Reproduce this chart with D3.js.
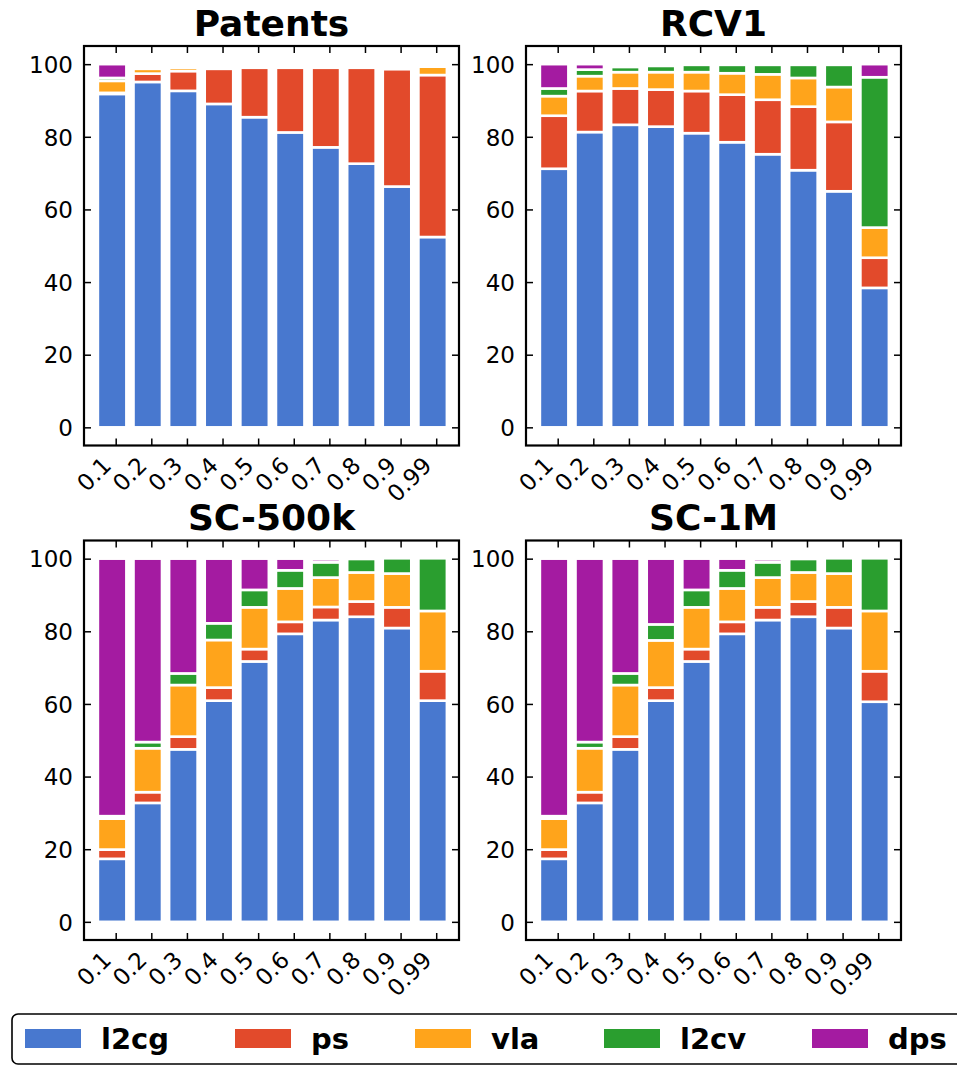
<!DOCTYPE html>
<html>
<head>
<meta charset="utf-8">
<script src="https://cdn.jsdelivr.net/npm/d3@7"></script>
<style>
  body { margin: 0; background: #fff; }
  svg { display: block; }
  text { font-family: "DejaVu Sans", sans-serif; fill: #000; }
</style>
</head>
<body>
<svg id="chart" width="957" height="1066"></svg>
<script>
// Sampling fractions on the x axis and the solver methods stacked in each bar
const fractions = ["0.1", "0.2", "0.3", "0.4", "0.5", "0.6", "0.7", "0.8", "0.9", "0.99"];
const methods = ["l2cg", "ps", "vla", "l2cv", "dps"];
const methodColors = ["#4878CF", "#E24A2B", "#FFA41B", "#2A9E2F", "#A41BA1"];
const yTickValues = [0, 20, 40, 60, 80, 100];

// Share of runs (%) won by each method, per dataset
const patentsL2cg = [91.8, 95.1, 92.65, 89.05, 85.4, 81.2, 77.1, 72.6, 66.3, 52.4];
const patentsPs   = [0.3, 2.3, 5.45, 9.65, 13.6, 17.8, 21.9, 26.4, 32.3, 44.6];
const patentsVla  = [3.3, 1.3, 0.9, 0, 0, 0, 0, 0, 0, 2.3];
const patentsL2cv = [0.8, 0, 0, 0, 0, 0, 0, 0, 0, 0];
const patentsDps  = [3.8, 0, 0, 0, 0, 0, 0, 0, 0, 0];

const rcv1L2cg = [71.2, 81.3, 83.3, 82.8, 81.0, 78.5, 75.2, 70.8, 65.0, 38.4];
const rcv1Ps   = [14.6, 11.3, 10.0, 10.2, 11.6, 13.1, 15.0, 17.5, 19.1, 8.3];
const rcv1Vla  = [5.4, 4.1, 4.5, 4.8, 5.2, 5.9, 7.0, 7.9, 9.6, 8.3];
const rcv1L2cv = [2.1, 1.8, 1.4, 1.7, 2.0, 2.3, 2.6, 3.6, 6.1, 41.4];
const rcv1Dps  = [6.7, 1.5, 0, 0, 0, 0, 0, 0, 0, 3.6];

const sc500kL2cg = [17.35, 32.75, 47.5, 60.9, 71.7, 79.3, 83.1, 84.0, 80.9, 60.9];
const sc500kPs   = [2.55, 2.95, 3.5, 3.6, 3.4, 3.3, 3.6, 4.2, 5.7, 8.1];
const sc500kVla  = [8.5, 12.1, 14.2, 13.1, 11.5, 9.2, 8.1, 8.0, 9.3, 16.6];
const sc500kL2cv = [0.7, 1.7, 3.2, 4.6, 4.8, 5.0, 4.2, 3.7, 4.2, 14.5];
const sc500kDps  = [70.9, 50.5, 31.6, 17.8, 8.6, 3.2, 0.8, 0, 0, 0];

const sc1mL2cg = [17.35, 32.75, 47.5, 60.9, 71.7, 79.3, 83.1, 84.0, 80.9, 60.6];
const sc1mPs   = [2.55, 2.95, 3.5, 3.6, 3.4, 3.3, 3.5, 4.2, 5.7, 8.4];
const sc1mVla  = [8.5, 12.1, 14.2, 13.0, 11.5, 9.2, 8.2, 8.0, 9.3, 16.6];
const sc1mL2cv = [0.7, 1.7, 3.2, 4.4, 4.8, 5.0, 4.2, 3.7, 4.2, 14.5];
const sc1mDps  = [70.9, 50.5, 31.6, 18.1, 8.6, 3.2, 0.8, 0, 0, 0];

const panels = [
  { title: "Patents", series: [patentsL2cg, patentsPs, patentsVla, patentsL2cv, patentsDps], left: 84,  top: 46 },
  { title: "RCV1",    series: [rcv1L2cg, rcv1Ps, rcv1Vla, rcv1L2cv, rcv1Dps],                left: 526, top: 46 },
  { title: "SC-500k", series: [sc500kL2cg, sc500kPs, sc500kVla, sc500kL2cv, sc500kDps],      left: 84,  top: 540.5 },
  { title: "SC-1M",   series: [sc1mL2cg, sc1mPs, sc1mVla, sc1mL2cv, sc1mDps],                left: 526, top: 540.5 }
];

const W = 375, H = 399.5;
const BAR_WIDTH = 0.8;   // bars span [i, i + 0.8]; ticks sit at i + 0.5
const TICK = 7;
const TICK_FONT = 23;

const svg = d3.select("#chart");
const color = d3.scaleOrdinal().domain(methods).range(methodColors);

const x = d3.scaleLinear().domain([-0.39, 10.14]).range([0, W]);
const y = d3.scaleLinear().domain([-5, 105]).range([H, 0]);
const tickPositions = fractions.map((_, i) => i + 0.5);

const stack = d3.stack().keys(methods);

panels.forEach(p => {
  const rows = fractions.map((f, i) => {
    const row = { fraction: f, index: i };
    methods.forEach((m, k) => { row[m] = p.series[k][i]; });
    return row;
  });
  const layers = stack(rows);

  const g = svg.append("g").attr("transform", `translate(${p.left},${p.top})`);

  // stacked bars with white separating edges
  g.selectAll("g.layer")
    .data(layers)
    .join("g")
    .attr("class", "layer")
    .attr("fill", d => color(d.key))
    .selectAll("rect")
    .data(d => d.filter(s => s[1] - s[0] > 0))
    .join("rect")
    .attr("x", s => x(s.data.index))
    .attr("width", s => x(s.data.index + BAR_WIDTH) - x(s.data.index))
    .attr("y", s => y(s[1]))
    .attr("height", s => y(s[0]) - y(s[1]))
    .attr("stroke", "#fff")
    .attr("stroke-width", 2.6);

  // inward ticks on all four sides
  const left = g.append("g")
    .call(d3.axisLeft(y).tickValues(yTickValues).tickSize(-TICK).tickPadding(11));
  left.selectAll("text").attr("font-size", TICK_FONT).attr("dy", "0.36em");

  g.append("g").attr("transform", `translate(${W},0)`)
    .call(d3.axisRight(y).tickValues(yTickValues).tickSize(-TICK).tickFormat(""));

  g.append("g")
    .call(d3.axisTop(x).tickValues(tickPositions).tickSize(-TICK).tickFormat(""));

  const bottom = g.append("g").attr("transform", `translate(0,${H})`)
    .call(d3.axisBottom(x).tickValues(tickPositions).tickSize(-TICK)
      .tickFormat(v => fractions[Math.round(v - 0.5)]));
  bottom.selectAll("text")
    .attr("font-size", TICK_FONT)
    .attr("y", null)
    .attr("dy", null)
    .attr("text-anchor", "end")
    .attr("transform", "translate(-3.5,21.5) rotate(-45)");

  g.selectAll(".domain").remove();
  g.selectAll(".tick line").attr("stroke", "#000").attr("stroke-width", 1.5);

  // axes frame
  g.append("rect")
    .attr("width", W).attr("height", H)
    .attr("fill", "none").attr("stroke", "#000").attr("stroke-width", 2.2);

  g.append("text")
    .attr("x", W / 2).attr("y", -10.5)
    .attr("text-anchor", "middle")
    .attr("font-size", 36).attr("font-weight", "bold")
    .text(p.title);
});

// legend along the bottom
const legendX = [25, 235, 415, 604, 812];
const legend = svg.append("g");
legend.append("rect")
  .attr("x", 12).attr("y", 1014).attr("width", 990).attr("height", 50).attr("rx", 6)
  .attr("fill", "#fff").attr("stroke", "#000").attr("stroke-width", 1.6);
const items = legend.selectAll("g.item").data(methods).join("g")
  .attr("class", "item")
  .attr("transform", (d, i) => `translate(${legendX[i]},1029)`);
items.append("rect")
  .attr("width", 56).attr("height", 19)
  .attr("fill", d => color(d));
items.append("text")
  .attr("x", 76).attr("y", 19.5)
  .attr("font-size", 29).attr("font-weight", "bold")
  .text(d => d);
</script>
</body>
</html>
